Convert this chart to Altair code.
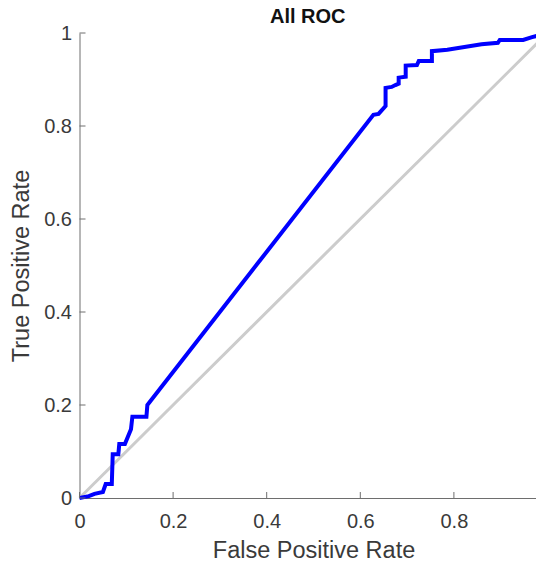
import altair as alt
import pandas as pd

fpr = [0, 0.02, 0.032, 0.05, 0.056, 0.069, 0.071, 0.083, 0.085, 0.097, 0.11, 0.113,
       0.143, 0.145, 0.628, 0.639, 0.654, 0.654, 0.667, 0.675, 0.682, 0.682, 0.697,
       0.697, 0.721, 0.725, 0.753, 0.753, 0.786, 0.859, 0.894, 0.898, 0.948, 0.967, 1.0]
tpr = [0, 0.004, 0.009, 0.013, 0.03, 0.03, 0.094, 0.094, 0.116, 0.116, 0.148, 0.175,
       0.175, 0.2, 0.824, 0.826, 0.843, 0.882, 0.884, 0.888, 0.891, 0.904, 0.906,
       0.930, 0.931, 0.94, 0.94, 0.961, 0.964, 0.976, 0.979, 0.985, 0.985, 0.991, 1.0]
diag = [0, 1]
ticks = [0, 0.2, 0.4, 0.6, 0.8, 1]

FONT = "Liberation Sans"
AX = "#6e6e6e"
TXT = "#3a3a3a"
W, H = 456.5, 465
XR = 468  # x pixel extent of the unit interval (plot runs past the right edge)

roc = pd.DataFrame({"fpr": fpr, "tpr": tpr, "order": list(range(len(fpr)))})
ddf = pd.DataFrame({"fpr": diag, "tpr": diag})
tdf = pd.DataFrame({"t": ticks})

xs = alt.Scale(domain=[0, 1], nice=False, range=[0, XR])
ys = alt.Scale(domain=[0, 1], nice=False)

xaxis = alt.Axis(values=ticks, format="~g", ticks=False, tickSize=0, grid=False,
                 labelFontSize=20, labelPadding=13, labelColor=TXT, labelFont=FONT,
                 titleFontSize=23.5, titleFont=FONT, titleFontWeight="normal",
                 titleColor=TXT, titlePadding=7, domainColor=AX, domainWidth=1,
                 labelFlush=False)
yaxis = alt.Axis(values=ticks, format="~g", ticks=False, tickSize=0, grid=False,
                 labelFontSize=20, labelPadding=8, labelColor=TXT, labelFont=FONT,
                 titleFontSize=23.5, titleFont=FONT, titleFontWeight="normal",
                 titleColor=TXT, titlePadding=10, domainColor=AX, domainWidth=1,
                 labelFlush=False)

diag_line = alt.Chart(ddf).mark_line(color="#cccccc", strokeWidth=3).encode(
    x=alt.X("fpr:Q", scale=xs, axis=xaxis, title="False Positive Rate"),
    y=alt.Y("tpr:Q", scale=ys, axis=yaxis, title="True Positive Rate"),
)

roc_line = alt.Chart(roc).mark_line(color="#0000ff", strokeWidth=4, strokeJoin="miter").encode(
    x=alt.X("fpr:Q", scale=xs),
    y=alt.Y("tpr:Q", scale=ys),
    order="order:Q",
)

xt = alt.Chart(tdf).mark_rule(color=AX, strokeWidth=1).encode(
    x=alt.X("t:Q", scale=xs), y=alt.value(H), y2=alt.value(H - 6)
)
yt = alt.Chart(tdf).mark_rule(color=AX, strokeWidth=1).encode(
    y=alt.Y("t:Q", scale=ys), x=alt.value(0), x2=alt.value(6)
)

chart = alt.layer(diag_line, roc_line, xt, yt).properties(
    width=W, height=H,
    title=alt.TitleParams("All ROC", fontSize=20, fontWeight="bold", font=FONT,
                          offset=0, dy=4, color="#111111"),
    autosize=alt.AutoSizeParams(type="none"),
    padding={"left": 71.5, "top": 25, "right": 0, "bottom": 63},
).configure_view(stroke=None)

chart.save("out.html", embed_options={"renderer": "svg", "actions": False})
